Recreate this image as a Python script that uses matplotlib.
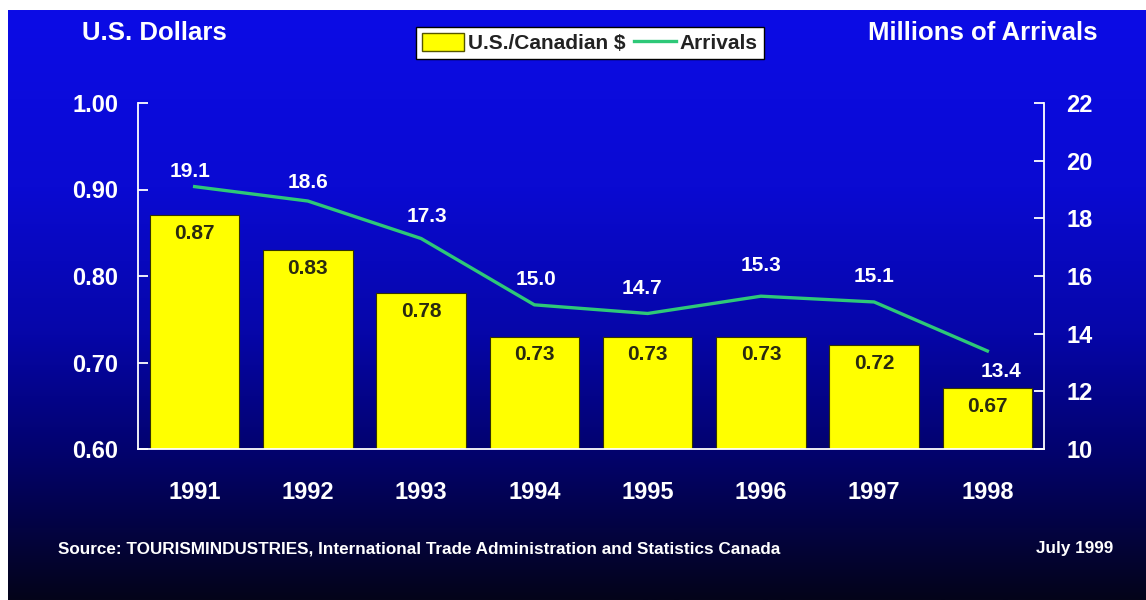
"""Exchange rate vs. Canadian arrivals, 1991-1998."""
import matplotlib

matplotlib.use("Agg")
import matplotlib.pyplot as plt
import numpy as np
from matplotlib.colors import LinearSegmentedColormap
from matplotlib.lines import Line2D
from matplotlib.patches import Patch

plt.rcParams["font.family"] = ["Liberation Sans", "DejaVu Sans"]
plt.rcParams["font.weight"] = "bold"

years = ["1991", "1992", "1993", "1994", "1995", "1996", "1997", "1998"]
exchange_rate = [0.87, 0.83, 0.78, 0.73, 0.73, 0.73, 0.72, 0.67]
arrivals = [19.1, 18.6, 17.3, 15.0, 14.7, 15.3, 15.1, 13.4]
left_ticks = [0.60, 0.70, 0.80, 0.90, 1.00]
right_ticks = [10, 12, 14, 16, 18, 20, 22]

W, H = 1146, 600
BAR_YELLOW = "#ffff00"
LINE_GREEN = "#2ec878"
# label offsets for the arrivals values (points)
arr_offsets = [(-3, 11), (0, 13), (4, 16), (1, 18), (-4, 18), (0, 22), (0, 18), (10, -15)]

fig = plt.figure(figsize=(W / 100, H / 100), dpi=100, facecolor="white")

# gradient background (white strip on top and left as in the scan)
bg = fig.add_axes([8 / W, 0, 1 - 8 / W, 590 / H])
bg.set_axis_off()
cmap = LinearSegmentedColormap.from_list(
    "slide",
    [(0.0, "#0c0ce6"), (0.3, "#0a0ad2"), (0.55, "#0606a8"), (0.76, "#02026a"), (1.0, "#04041a")],
)
grad = np.linspace(0, 1, 256).reshape(-1, 1)
bg.imshow(grad, aspect="auto", cmap=cmap, extent=(0, 1, 0, 1))
bg.set_zorder(-10)

ax = fig.add_axes([138 / W, (H - 449) / H, (1044 - 138) / W, (449 - 103) / H])
ax.patch.set_alpha(0)
x = np.arange(len(years))
ax.bar(x, exchange_rate, width=0.79, color=BAR_YELLOW, edgecolor="#333300", linewidth=0.8, zorder=2)
ax.set_xlim(-0.5, len(years) - 0.5)
ax.set_ylim(0.60, 1.00)
ax.set_yticks(left_ticks)
ax.set_yticklabels([f"{v:.2f}" for v in left_ticks])
ax.set_xticks(x)
ax.set_xticklabels(years)
ax.tick_params(axis="y", direction="in", length=7, width=1.3, color="white",
               labelcolor="white", labelsize=17, pad=14)
ax.tick_params(axis="x", length=0, labelcolor="white", labelsize=17, pad=23)
for side in ("left", "bottom"):
    ax.spines[side].set_color("white")
    ax.spines[side].set_linewidth(1.3)
ax.spines["top"].set_visible(False)
ax.spines["right"].set_visible(False)

for xi, v in zip(x, exchange_rate):
    ax.annotate(f"{v:.2f}", (xi, v), xytext=(0, -13), textcoords="offset points",
                ha="center", va="center", fontsize=15, color="#2a2a10", zorder=3)

ax2 = ax.twinx()
ax2.set_ylim(10, 22)
ax2.set_yticks(right_ticks)
ax2.plot(x, arrivals, color=LINE_GREEN, linewidth=2.4, zorder=4)
ax2.tick_params(axis="y", direction="in", length=7, width=1.3, color="white",
                labelcolor="white", labelsize=17, pad=16)
ax2.spines["right"].set_color("white")
ax2.spines["right"].set_linewidth(1.3)
for s in ("top", "left", "bottom"):
    ax2.spines[s].set_visible(False)
for xi, v, off in zip(x, arrivals, arr_offsets):
    ax2.annotate(f"{v:.1f}", (xi, v), xytext=off, textcoords="offset points",
                 ha="center", va="center", fontsize=15, color="white")

handles = [
    Patch(facecolor=BAR_YELLOW, edgecolor="#555500", linewidth=1, label="U.S./Canadian $"),
    Line2D([], [], color=LINE_GREEN, linewidth=2.4, label="Arrivals"),
]
leg = fig.legend(handles=handles, loc="center", bbox_to_anchor=(590 / W, 1 - 43 / H), ncol=2,
                 frameon=True, fancybox=False, edgecolor="black", facecolor="white", framealpha=1,
                 fontsize=15, handlelength=2.0, handleheight=1.0, columnspacing=0.4,
                 handletextpad=0.2, borderpad=0.3)
for t in leg.get_texts():
    t.set_color("#222222")

fig.text(82 / W, 1 - 33 / H, "U.S. Dollars", color="white", fontsize=18.5, ha="left", va="center")
fig.text(1098 / W, 1 - 33 / H, "Millions of Arrivals", color="white", fontsize=18.5, ha="right", va="center")
fig.text(58 / W, 1 - 549 / H,
         "Source: TOURISMINDUSTRIES, International Trade Administration and Statistics Canada",
         color="white", fontsize=12.3, ha="left", va="center")
fig.text(1113 / W, 1 - 549 / H, "July 1999", color="white", fontsize=12.3, ha="right", va="center")

fig.savefig("out.png", dpi=100, facecolor=fig.get_facecolor())
